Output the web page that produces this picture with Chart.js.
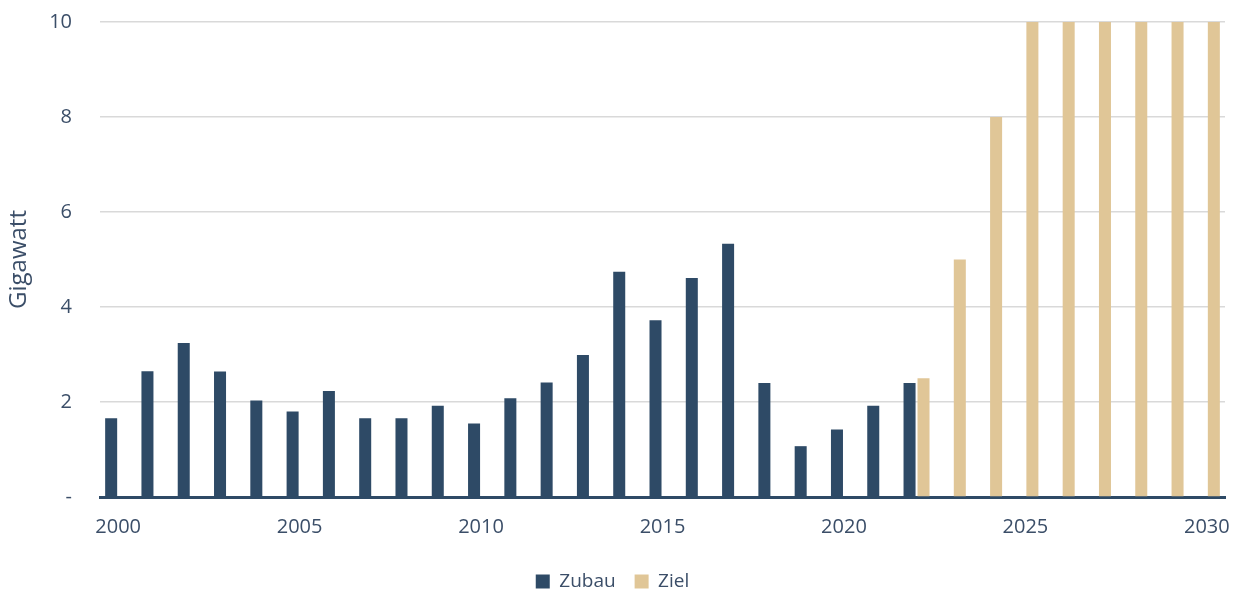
<!DOCTYPE html>
<html>
<head>
<meta charset="utf-8">
<script src="https://cdn.jsdelivr.net/npm/chart.js@4"></script>
<style>
  html, body { margin: 0; padding: 0; background: #fff; }
  #wrap { width: 1241px; height: 592px; }
</style>
</head>
<body>
<div id="wrap"><canvas id="chart"></canvas></div>
<script>
// Jahre 2000 - 2030
const years = [];
for (let y = 2000; y <= 2030; y++) years.push(String(y));

// Zubau 2000-2022 (GW), danach keine Werte
const zubau = [1.66, 2.65, 3.24, 2.64, 2.03, 1.80, 2.23, 1.66, 1.66, 1.92, 1.55,
               2.08, 2.41, 2.99, 4.74, 3.72, 4.61, 5.33, 2.40, 1.07, 1.42, 1.92, 2.40,
               null, null, null, null, null, null, null, null];

// Ziel ab 2022
const ziel = [null, null, null, null, null, null, null, null, null, null, null,
              null, null, null, null, null, null, null, null, null, null, null, 2.5,
              5, 8, 10, 10, 10, 10, 10, 10];

const yTicks = [0, 2, 4, 6, 8, 10];

const navy = '#2E4A66';
const beige = '#E0C697';
const textColor = '#3B4E68';
const font = "'Open Sans', sans-serif";

const ctx = document.getElementById('chart').getContext('2d');
new Chart(ctx, {
    type: 'bar',
    data: {
        labels: years,
        datasets: [{
            label: 'Zubau',
            data: zubau,
            backgroundColor: navy,
            categoryPercentage: 0.77,
            barPercentage: 0.86
        }, {
            label: 'Ziel',
            data: ziel,
            backgroundColor: beige,
            categoryPercentage: 0.77,
            barPercentage: 0.86
        }]
    },
    options: {
        responsive: true,
        maintainAspectRatio: false,
        animation: false,
        layout: {
            padding: { top: 0, right: 16, bottom: -9, left: 0 }
        },
        plugins: {
            legend: {
                position: 'bottom',
                labels: {
                    color: textColor,
                    font: { family: font, size: 19 },
                    boxWidth: 14,
                    boxHeight: 14,
                    padding: 19
                }
            },
            tooltip: { enabled: false }
        },
        scales: {
            x: {
                grid: { display: false },
                border: { display: true, color: navy, width: 3 },
                afterFit: function(axis) {
                    axis.height = 56;
                },
                ticks: {
                    autoSkip: false,
                    maxRotation: 0,
                    color: textColor,
                    font: { family: font, size: 20 },
                    padding: 10,
                    callback: function(value, index) {
                        return index % 5 === 0 ? years[index] : '';
                    }
                }
            },
            y: {
                min: 0,
                max: 10,
                afterBuildTicks: function(axis) {
                    axis.ticks = yTicks.map(v => ({ value: v }));
                },
                afterFit: function(axis) {
                    axis.width = 100;
                },
                grid: {
                    color: '#D9D9D9',
                    lineWidth: 1.5,
                    drawTicks: true,
                    tickLength: 18,
                    tickColor: 'rgba(0,0,0,0)'
                },
                border: { display: false },
                ticks: {
                    color: textColor,
                    font: { family: font, size: 20 },
                    padding: 10,
                    callback: function(value) {
                        return value === 0 ? '-' : value;
                    }
                },
                title: {
                    display: true,
                    text: 'Gigawatt',
                    color: textColor,
                    font: { family: font, size: 24 },
                    padding: { top: 5, bottom: 0 }
                }
            }
        }
    }
});
</script>
</body>
</html>
